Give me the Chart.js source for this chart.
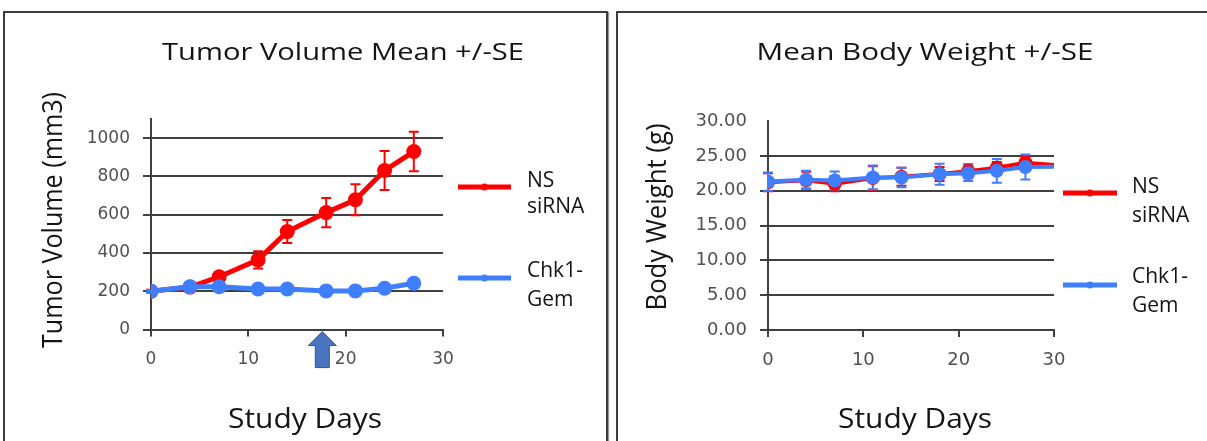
<!DOCTYPE html>
<html>
<head>
<meta charset="utf-8">
<script src="https://cdn.jsdelivr.net/npm/chart.js@4.4.1/dist/chart.umd.min.js"></script>
<style>
  html, body { margin: 0; padding: 0; background: #fff; width: 1207px; height: 441px; overflow: hidden; position: relative; }
  .panel { position: absolute; border: 2px solid #3c3c3c; box-shadow: 1px 1px 1px #999; box-sizing: border-box; }
  canvas { position: absolute; top: 0; }
</style>
</head>
<body>
<div class="panel" style="left:3px; top:11px; width:605px; height:460px;"></div>
<div class="panel" style="left:616px; top:11px; width:620px; height:460px;"></div>
<canvas id="c1" width="610" height="441" style="left:0px"></canvas>
<canvas id="c2" width="597" height="441" style="left:610px"></canvas>
<script>
// ---------------- DATA ----------------
const tumorDays = [0, 4, 7, 11, 14, 18, 21, 24, 27];
const tumorNS   = [200, 222, 276, 364, 512, 611, 678, 831, 930];
const tumorNSse = [8, 10, 18, 45, 60, 76, 81, 102, 103];
const tumorChk  = [200, 224, 224, 212, 212, 202, 202, 216, 242];
const tumorChkSe= [6, 8, 8, 8, 8, 8, 8, 8, 10];
const tumorYTicks = [0, 200, 400, 600, 800, 1000];
const arrowDay = 17.6;

const bwDays   = [0, 4, 7, 11, 14, 18, 21, 24, 27, 30];
const bwNS     = [21.2, 21.5, 21.0, 21.8, 22.0, 22.4, 22.8, 23.3, 24.0, 23.7];
const bwNSse   = [1.3, 1.2, 1.1, 1.7, 1.3, 1.0, 1.0, 0.8, 0.9, null];
const bwChk    = [21.3, 21.55, 21.45, 21.9, 21.9, 22.35, 22.5, 22.85, 23.4, 23.45];
const bwChkSe  = [1.3, 1.3, 1.3, 1.7, 1.4, 1.5, 1.1, 1.7, 1.8, null];
const bwYTicks = [0, 5, 10, 15, 20, 25, 30];
const xTicks   = [0, 10, 20, 30];

const seriesNames = [["NS", "siRNA"], ["Chk1-", "Gem"]];
const RED = '#ff0000', BLUE = '#3f7fff';

// ---------------- HELPERS ----------------
function drawText(ctx, s, x, y, font, targetW, align, rotate) {
  ctx.save();
  ctx.font = font;
  ctx.fillStyle = '#141414';
  const w = ctx.measureText(s).width;
  const sx = targetW ? targetW / w : 1;
  ctx.translate(x, y);
  if (rotate) ctx.rotate(-Math.PI / 2);
  ctx.scale(sx, 1);
  ctx.textAlign = align || 'center';
  ctx.textBaseline = 'alphabetic';
  ctx.fillText(s, 0, 0);
  ctx.restore();
}

const decorPlugin = {
  id: 'decor',
  beforeDatasetsDraw(chart) {
    const ctx = chart.ctx, xs = chart.scales.x, ys = chart.scales.y;
    const d = chart.options.plugins.decor;
    chart.data.datasets.forEach((ds, k) => {
      const se = ds.se; if (!se) return;
      ctx.save();
      ctx.strokeStyle = ds.borderColor; ctx.lineWidth = d.errW;
      ds.data.forEach((p, i) => {
        if (se[i] == null) return;
        const x = xs.getPixelForValue(p.x);
        const y1 = ys.getPixelForValue(p.y + se[i]);
        const y2 = ys.getPixelForValue(p.y - se[i]);
        ctx.beginPath();
        ctx.moveTo(x, y1); ctx.lineTo(x, y2);
        ctx.moveTo(x - d.cap, y1); ctx.lineTo(x + d.cap, y1);
        ctx.moveTo(x - d.cap, y2); ctx.lineTo(x + d.cap, y2);
        ctx.stroke();
      });
      ctx.restore();
    });
  },
  afterDraw(chart) {
    const ctx = chart.ctx, d = chart.options.plugins.decor;
    drawText(ctx, d.title, d.titleX, d.titleY, '24px "Open Sans"', d.titleW, 'center');
    drawText(ctx, d.yTitle, d.yTitleX, d.yTitleY, '27px "Open Sans"', d.yTitleW, 'center', true);
    drawText(ctx, 'Study Days', d.xTitleX, d.xTitleY, '27px "Open Sans"', 154, 'center');
    chart.data.datasets.forEach((ds, k) => {
      const L = d.legend[k];
      ctx.save();
      ctx.strokeStyle = ds.borderColor; ctx.lineWidth = d.legLW; ctx.lineCap = 'butt';
      ctx.beginPath(); ctx.moveTo(L.x1, L.y); ctx.lineTo(L.x2, L.y); ctx.stroke();
      ctx.fillStyle = ds.borderColor;
      ctx.beginPath(); ctx.arc((L.x1 + L.x2) / 2, L.y, 3.5, 0, Math.PI * 2); ctx.fill();
      ctx.restore();
      const names = seriesNames[k];
      drawText(ctx, names[0], L.tx, L.b1, '21px "Open Sans"', null, 'left');
      drawText(ctx, names[1], L.tx, L.b2, '21px "Open Sans"', null, 'left');
    });
    if (d.arrow) {
      const xs = chart.scales.x;
      const ax = xs.getPixelForValue(d.arrow);
      const tip = chart.chartArea.bottom + 2;
      ctx.save();
      ctx.fillStyle = '#4a74c0'; ctx.strokeStyle = '#2f5597'; ctx.lineWidth = 1;
      ctx.beginPath();
      ctx.moveTo(ax, tip);
      ctx.lineTo(ax + 14, tip + 14);
      ctx.lineTo(ax + 7, tip + 14);
      ctx.lineTo(ax + 7, tip + 36);
      ctx.lineTo(ax - 7, tip + 36);
      ctx.lineTo(ax - 7, tip + 14);
      ctx.lineTo(ax - 14, tip + 14);
      ctx.closePath();
      ctx.fill(); ctx.stroke();
      ctx.restore();
    }
  }
};

function pts(xa, ya) { return xa.map((x, i) => ({ x: x, y: ya[i] })); }

function makeChart(id, cfg) {
  return new Chart(document.getElementById(id), {
    type: 'line',
    data: {
      datasets: [
        { label: 'NS siRNA', data: pts(cfg.days, cfg.ns), se: cfg.nsSe, borderColor: RED, backgroundColor: RED,
          pointBackgroundColor: RED, pointBorderWidth: 0, pointRadius: cfg.radii, borderWidth: cfg.lw, order: 1, tension: 0 },
        { label: 'Chk1-Gem', data: pts(cfg.days, cfg.chk), se: cfg.chkSe, borderColor: BLUE, backgroundColor: BLUE,
          pointBackgroundColor: BLUE, pointBorderWidth: 0, pointRadius: cfg.radii, borderWidth: cfg.lw, order: 0, tension: 0 }
      ]
    },
    options: {
      responsive: false, animation: false, devicePixelRatio: 1,
      layout: { padding: { left: 0, top: cfg.top, right: cfg.right, bottom: 0 } },
      plugins: { legend: { display: false }, tooltip: { enabled: false }, decor: cfg.decor },
      scales: {
        x: {
          type: 'linear', min: 0, max: 30,
          afterBuildTicks: s => { s.ticks = xTicks.map(v => ({ value: v })); },
          afterFit: s => { s.height = 441 - cfg.bottom; },
          border: { display: true, color: '#404040', width: 2 },
          grid: { drawOnChartArea: false, drawTicks: true, tickLength: 7, color: '#404040', lineWidth: 2 },
          ticks: { font: { family: 'DejaVu Sans', size: cfg.tickSize }, color: '#505050', padding: 13, maxRotation: 0 }
        },
        y: {
          type: 'linear', min: 0, max: cfg.ymax,
          afterBuildTicks: s => { s.ticks = cfg.yTicks.map(v => ({ value: v })); },
          afterFit: s => { s.width = cfg.left; },
          border: { display: true, color: '#404040', width: 2 },
          grid: { drawTicks: true, tickLength: 8, lineWidth: 2,
                  color: c => (c.tick && c.tick.value === cfg.ymax) ? 'rgba(0,0,0,0)' : '#404040' },
          ticks: { font: { family: 'DejaVu Sans', size: cfg.tickSize }, color: '#505050', padding: 13,
                   callback: v => cfg.fmt(v) }
        }
      }
    },
    plugins: [decorPlugin]
  });
}

makeChart('c1', {
  days: tumorDays, ns: tumorNS, nsSe: tumorNSse, chk: tumorChk, chkSe: tumorChkSe,
  yTicks: tumorYTicks, ymax: 1100, fmt: v => String(v),
  radii: 7.5, lw: 5, tickSize: 17,
  left: 151, right: 610 - 443, top: 119, bottom: 329.6,
  decor: {
    title: 'Tumor Volume Mean +/-SE', titleX: 343, titleY: 60, titleW: 362,
    yTitle: 'Tumor Volume (mm3)', yTitleX: 62, yTitleY: 220, yTitleW: 256,
    xTitleX: 305, xTitleY: 428, errW: 2, cap: 5, legLW: 5, arrow: arrowDay,
    legend: [ { x1: 458, x2: 511, y: 187, tx: 527, b1: 187, b2: 213 },
              { x1: 458, x2: 511, y: 278, tx: 527, b1: 277, b2: 306 } ]
  }
});

makeChart('c2', {
  days: bwDays, ns: bwNS, nsSe: bwNSse, chk: bwChk, chkSe: bwChkSe,
  yTicks: bwYTicks, ymax: 30, fmt: v => v.toFixed(2),
  radii: bwDays.map(d => d === 30 ? 0 : 7), lw: 4, tickSize: 18,
  left: 158, right: 597 - 444, top: 121, bottom: 330,
  decor: {
    title: 'Mean Body Weight +/-SE', titleX: 315, titleY: 60, titleW: 337,
    yTitle: 'Body Weight (g)', yTitleX: 56, yTitleY: 217, yTitleW: 187,
    xTitleX: 305, xTitleY: 428, errW: 2, cap: 5, legLW: 5, arrow: null,
    legend: [ { x1: 453, x2: 507, y: 193, tx: 522, b1: 193, b2: 222 },
              { x1: 453, x2: 507, y: 285, tx: 522, b1: 283, b2: 312 } ]
  }
});
</script>
</body>
</html>
